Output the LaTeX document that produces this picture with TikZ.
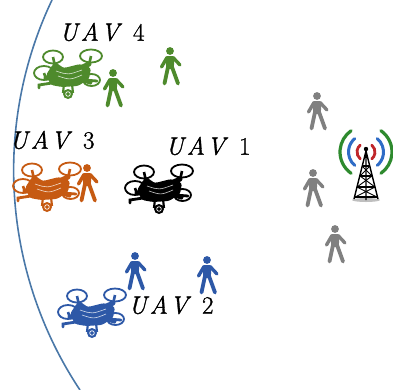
\documentclass[tikz,border=0pt]{standalone}
\usepackage{fontspec}
\newfontfamily\uavfont{Latin Modern Roman}[UprightFeatures={FakeBold=1.2}, ItalicFeatures={FakeBold=1.2}]
\begin{document}
\definecolor{uavgreen}{HTML}{4E8A2C}
\definecolor{uavorange}{HTML}{C65A12}
\definecolor{uavblue}{HTML}{2D58A7}
\definecolor{usergray}{HTML}{808080}
\definecolor{cellblue}{HTML}{4A78A8}
\definecolor{sigred}{HTML}{C0262A}
\definecolor{sigblue}{HTML}{2F6CC6}
\definecolor{siggreen}{HTML}{2E8A2E}
\newcommand\uavname[1]{\itshape U\kern3pt A\kern2pt V\hspace{14pt}\upshape #1}
\begin{tikzpicture}[x=1pt,y=-1pt,
  uavlabel/.style={inner sep=0pt, font=\uavfont\fontsize{25}{28}\selectfont},
  % quadcopter icon, centred on its body
  drone/.pic={
    \begin{scope}[line width=1.8pt]
      \draw (-15,-17) ellipse [x radius=10, y radius=6.5];
      \draw (23,-18) ellipse [x radius=11, y radius=6.5];
      \draw (-24,-1) ellipse [x radius=10, y radius=7];
      \draw (23.5,6) ellipse [x radius=8.5, y radius=6];
    \end{scope}
    % rotor posts
    \draw[line width=2.6pt] (-15,-17) -- (-13,-8) (23,-18) -- (21,-9)
      (-24,-1) -- (-22,5) (23.5,6) -- (22,10);
    % arms
    \draw[line width=5pt, line cap=round] (0,0) -- (-13,-9) (0,0) -- (21,-10)
      (0,0) -- (-22,4) (0,0) -- (22,8);
    \draw[line width=2.8pt, line cap=round] (-16,9) -- (-29,11) -- (-29,14)
      (16,6) -- (29,7);
    % body
    \fill[rounded corners=2.5pt] (-22,1) -- (-15,-10) -- (-4,-6) -- (12,-10)
      -- (23,-6) -- (21,5) -- (10,12) -- (-6,13) -- (-17,11) -- cycle;
    \draw[white, line width=0.6pt, opacity=0.8] (-12,-3) .. controls (0,1) .. (14,-4)
      (-10,2) .. controls (2,6) .. (14,1);
    % camera gimbal
    \draw[line width=2.2pt] (-4,10) -- (-5,19) (4,10) -- (5,19);
    \fill (0,20) circle (5);
    \draw[white, line width=0.7pt] (0,20) circle (2.3);
  },
  % walking user pictogram, origin at the head
  user/.pic={
    \fill (0,0) circle (3.9);
    \fill[rounded corners=1.5pt] (-4.4,5) -- (4.4,5) -- (3.8,18) -- (-3.8,18) -- cycle;
    \draw[line width=3.4pt, line cap=round] (-3,6.5) -- (-8.5,16) (3,6.5) -- (10,14);
    \draw[line width=3.8pt, line cap=round] (-2,16) -- (-5.5,32.5) (2,16) -- (8,32.5);
  }
]
\useasboundingbox (0,0) rectangle (393,389);

% cell edge
\draw[cellblue, line width=1.6pt] (52,0) arc[start angle=205.4, end angle=146.4, radius=397];

% UAVs and their labels
\pic[color=uavgreen]  (uavD) at (68,74)  {drone};
\pic[color=uavorange] (uavC) at (47,187) {drone};
\pic[color=black]     (uavA) at (159,189) {drone};
\pic[color=uavblue]   (uavB) at (92,313) {drone};

\node[uavlabel] (labD) at (102,32)  {\uavname{4}};
\node[uavlabel] (labC) at (52,140)  {\uavname{3}};
\node[uavlabel] (labA) at (208,146) {\uavname{1}};
\node[uavlabel] (labB) at (171,305) {\uavname{2}};

% ground users
\pic[color=uavgreen]  (gu1) at (113,73)  {user};
\pic[color=uavgreen]  (gu2) at (170,51)  {user};
\pic[color=uavorange] (ou1) at (87,168)  {user};
\pic[color=uavblue]   (bu1) at (135,256) {user};
\pic[color=uavblue]   (bu2) at (207,260) {user};
\pic[color=usergray]  (ru1) at (317,96)  {user};
\pic[color=usergray]  (ru2) at (313,173) {user};
\pic[color=usergray]  (ru3) at (335,229) {user};

% base station tower with radio waves
\coordinate (bs) at (366,152);
\begin{scope}[line cap=round]
  \draw[sigred, line width=2.8pt]
    ([shift={(bs)}]-50:9) arc[start angle=-50, end angle=50, radius=9]
    ([shift={(bs)}]130:9) arc[start angle=130, end angle=230, radius=9];
  \draw[sigblue, line width=3pt]
    ([shift={(bs)}]-50:17.5) arc[start angle=-50, end angle=50, radius=17.5]
    ([shift={(bs)}]130:17.5) arc[start angle=130, end angle=230, radius=17.5];
  \draw[siggreen, line width=3.2pt]
    ([shift={(bs)}]-55:26) arc[start angle=-55, end angle=55, radius=26]
    ([shift={(bs)}]125:26) arc[start angle=125, end angle=235, radius=26];
\end{scope}
\fill[black!25] (366,200) ellipse [x radius=14, y radius=2];
\begin{scope}[line width=1.4pt, line join=round]
  \fill (366,149) circle (2.2);
  \draw (366,151) -- (354,199) (366,151) -- (378,199) (366,151) -- (366,200);
  \draw (362,166) -- (370,166) (360,176) -- (372,176) (357,187) -- (375,187)
        (355,197) -- (377,197);
  \draw[line width=0.9pt] (362,166) -- (372,176) (370,166) -- (360,176)
        (360,176) -- (375,187) (372,176) -- (357,187)
        (357,187) -- (377,197) (375,187) -- (355,197);
\end{scope}
\end{tikzpicture}
\end{document}
